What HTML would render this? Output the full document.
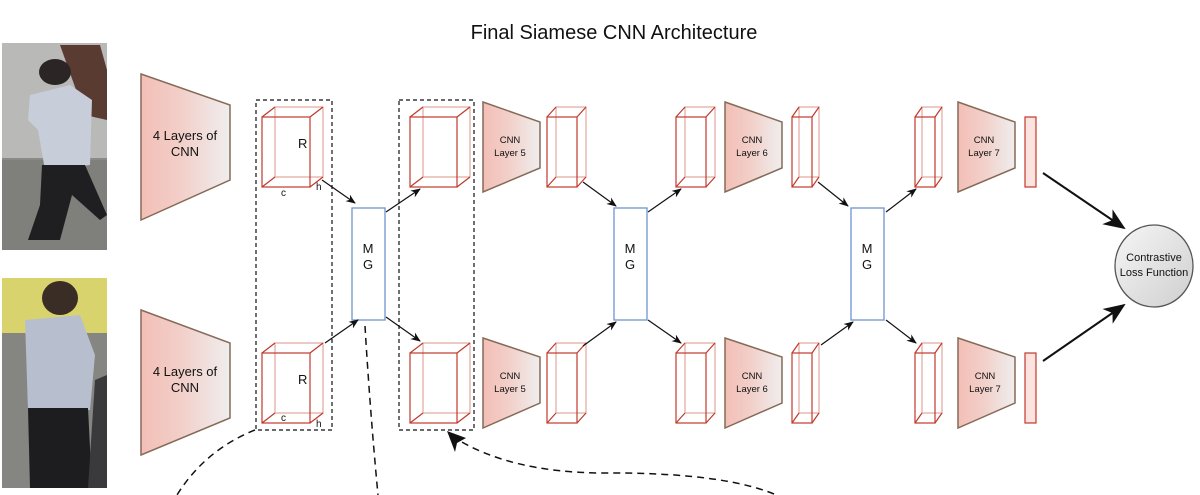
<!DOCTYPE html>
<html><head><meta charset="utf-8"><style>
html,body{margin:0;padding:0;background:#fff;}
svg{display:block;}
text{font-family:"Liberation Sans",sans-serif;fill:#111;}
</style></head><body>
<svg width="1200" height="495" viewBox="0 0 1200 495" xmlns="http://www.w3.org/2000/svg">
<defs>
<linearGradient id="tg" x1="0" x2="1" y1="0" y2="0">
<stop offset="0" stop-color="#f3bfb6"/><stop offset="0.45" stop-color="#f2cfc9"/><stop offset="1" stop-color="#efeeee"/></linearGradient>
<linearGradient id="cg" x1="0" x2="1" y1="0" y2="1">
<stop offset="0" stop-color="#f6f6f6"/><stop offset="1" stop-color="#cfcfcf"/></linearGradient>
<marker id="ar" markerWidth="10" markerHeight="8" refX="9" refY="4" orient="auto" markerUnits="userSpaceOnUse">
<path d="M0,0 L10,4 L0,8 L3,4 z" fill="#111"/></marker>
<marker id="ab" markerWidth="22" markerHeight="18" refX="20" refY="9" orient="auto" markerUnits="userSpaceOnUse">
<path d="M0,0 L22,9 L0,18 L6,9 z" fill="#111"/></marker>
</defs>

<text x="614" y="39" font-size="20" text-anchor="middle">Final Siamese CNN Architecture</text>

<!-- photos -->
<rect x="2" y="43" width="105" height="207" fill="#8a8a88"/>
<rect x="2" y="43" width="105" height="115" fill="#b9b9b7"/>
<rect x="2" y="160" width="105" height="90" fill="#7f7f7c"/>
<path d="M60 45 L100 45 L107 70 L107 120 L85 115 Z" fill="#5a3b32"/>
<ellipse cx="55" cy="72" rx="16" ry="13" fill="#2b2625"/>
<path d="M30 95 L70 85 L92 100 L90 165 L45 170 L38 130 L28 120 Z" fill="#c7cdd9"/>
<path d="M42 165 L85 165 L107 215 L100 220 L72 195 L60 240 L28 240 L40 205 Z" fill="#1f1e20"/>
<rect x="2" y="278" width="105" height="210" fill="#858582"/>
<rect x="2" y="278" width="105" height="55" fill="#d9d36e"/>
<ellipse cx="60" cy="298" rx="18" ry="17" fill="#3a2d25"/>
<path d="M25 320 L80 315 L95 355 L90 410 L28 410 Z" fill="#b7bfcf"/>
<path d="M28 408 L88 408 L92 488 L30 488 Z" fill="#1d1c1f"/>
<path d="M95 380 L107 375 L107 488 L88 488 Z" fill="#3a3a3c"/>

<!-- big trapezoids -->
<g stroke="#866a58" stroke-width="1.5" fill="url(#tg)">
<polygon points="141,74 230,105 230,180 141,220"/>
<polygon points="141,310 230,343 230,418 141,455"/>
<polygon points="483,102 540,122 540,168 483,192"/>
<polygon points="483,338 540,357 540,403 483,428"/>
<polygon points="725,102 782,122 782,168 725,192"/>
<polygon points="725,338 782,357 782,403 725,428"/>
<polygon points="958,102 1015,122 1015,168 958,192"/>
<polygon points="958,338 1015,357 1015,403 958,428"/>
</g>
<g font-size="13" text-anchor="middle">
<text x="185" y="140">4 Layers of</text><text x="185" y="156">CNN</text>
<text x="185" y="376">4 Layers of</text><text x="185" y="392">CNN</text>
</g>
<g font-size="9.5" text-anchor="middle">
<text x="510" y="143">CNN</text><text x="510" y="156">Layer 5</text>
<text x="510" y="379">CNN</text><text x="510" y="392">Layer 5</text>
<text x="752" y="143">CNN</text><text x="752" y="156">Layer 6</text>
<text x="752" y="379">CNN</text><text x="752" y="392">Layer 6</text>
<text x="984" y="143">CNN</text><text x="984" y="156">Layer 7</text>
<text x="985" y="379">CNN</text><text x="985" y="392">Layer 7</text>
</g>

<!-- dashed boxes -->
<g fill="none" stroke="#111" stroke-width="1.2" stroke-dasharray="4,3">
<rect x="256" y="100" width="76" height="330"/>
<rect x="399" y="100" width="75" height="330"/>
</g>

<!-- cubes -->
<g fill="none" stroke="#c0392b" stroke-width="1.2">
<g>
<rect x="262" y="117" width="48" height="70"/><rect x="275" y="107" width="48" height="70" stroke-opacity="0.45"/>
<path d="M262 117 L275 107 M310 117 L323 107 M310 187 L323 177 M262 187 L275 177"/>
</g>
<g transform="translate(0,236)">
<rect x="262" y="117" width="48" height="70"/><rect x="275" y="107" width="48" height="70" stroke-opacity="0.45"/>
<path d="M262 117 L275 107 M310 117 L323 107 M310 187 L323 177 M262 187 L275 177"/>
</g>
<g transform="translate(148,0)">
<rect x="262" y="117" width="47" height="70"/><rect x="275" y="107" width="47" height="70" stroke-opacity="0.45"/>
<path d="M262 117 L275 107 M309 117 L322 107 M309 187 L322 177 M262 187 L275 177"/>
</g>
<g transform="translate(148,236)">
<rect x="262" y="117" width="47" height="70"/><rect x="275" y="107" width="47" height="70" stroke-opacity="0.45"/>
<path d="M262 117 L275 107 M309 117 L322 107 M309 187 L322 177 M262 187 L275 177"/>
</g>
<g>
<rect x="547" y="117" width="30" height="70"/><rect x="556" y="107" width="30" height="70" stroke-opacity="0.45"/>
<path d="M547 117 L556 107 M577 117 L586 107 M577 187 L586 177 M547 187 L556 177"/>
</g>
<g transform="translate(0,236)">
<rect x="547" y="117" width="30" height="70"/><rect x="556" y="107" width="30" height="70" stroke-opacity="0.45"/>
<path d="M547 117 L556 107 M577 117 L586 107 M577 187 L586 177 M547 187 L556 177"/>
</g>
<g transform="translate(129,0)">
<rect x="547" y="117" width="30" height="70"/><rect x="556" y="107" width="30" height="70" stroke-opacity="0.45"/>
<path d="M547 117 L556 107 M577 117 L586 107 M577 187 L586 177 M547 187 L556 177"/>
</g>
<g transform="translate(129,236)">
<rect x="547" y="117" width="30" height="70"/><rect x="556" y="107" width="30" height="70" stroke-opacity="0.45"/>
<path d="M547 117 L556 107 M577 117 L586 107 M577 187 L586 177 M547 187 L556 177"/>
</g>
<g>
<rect x="792" y="117" width="20" height="70"/><rect x="799" y="107" width="20" height="70" stroke-opacity="0.45"/>
<path d="M792 117 L799 107 M812 117 L819 107 M812 187 L819 177 M792 187 L799 177"/>
</g>
<g transform="translate(0,236)">
<rect x="792" y="117" width="20" height="70"/><rect x="799" y="107" width="20" height="70" stroke-opacity="0.45"/>
<path d="M792 117 L799 107 M812 117 L819 107 M812 187 L819 177 M792 187 L799 177"/>
</g>
<g transform="translate(123,0)">
<rect x="792" y="117" width="20" height="70"/><rect x="799" y="107" width="20" height="70" stroke-opacity="0.45"/>
<path d="M792 117 L799 107 M812 117 L819 107 M812 187 L819 177 M792 187 L799 177"/>
</g>
<g transform="translate(123,236)">
<rect x="792" y="117" width="20" height="70"/><rect x="799" y="107" width="20" height="70" stroke-opacity="0.45"/>
<path d="M792 117 L799 107 M812 117 L819 107 M812 187 L819 177 M792 187 L799 177"/>
</g>
<rect x="1025" y="117" width="11" height="70" fill="#fbe3e0"/>
<rect x="1025" y="353" width="11" height="70" fill="#fbe3e0"/>
</g>
<g font-size="13"><text x="298" y="148">R</text><text x="298" y="384">R</text></g>
<g font-size="10"><text x="281" y="196">c</text><text x="316" y="190">h</text><text x="281" y="421">c</text><text x="316" y="427">h</text></g>

<!-- MG boxes -->
<g fill="#fff" stroke="#6f93cf" stroke-width="1.3">
<rect x="352" y="208" width="33" height="112"/>
<rect x="614" y="208" width="33" height="112"/>
<rect x="851" y="208" width="33" height="112"/>
</g>
<g font-size="13" text-anchor="middle">
<text x="368" y="253">M</text><text x="368" y="269">G</text>
<text x="630" y="253">M</text><text x="630" y="269">G</text>
<text x="867" y="253">M</text><text x="867" y="269">G</text>
</g>

<!-- small arrows -->
<g stroke="#111" stroke-width="1.2" marker-end="url(#ar)">
<line x1="322" y1="180" x2="355" y2="203"/>
<line x1="325" y1="343" x2="358" y2="320"/>
<line x1="386" y1="212" x2="420" y2="189"/>
<line x1="386" y1="317" x2="420" y2="341"/>
<line x1="583" y1="182" x2="616" y2="206"/>
<line x1="583" y1="346" x2="616" y2="322"/>
<line x1="648" y1="212" x2="681" y2="189"/>
<line x1="648" y1="320" x2="681" y2="343"/>
<line x1="818" y1="182" x2="848" y2="206"/>
<line x1="821" y1="345" x2="853" y2="322"/>
<line x1="886" y1="212" x2="916" y2="189"/>
<line x1="886" y1="320" x2="916" y2="343"/>
</g>
<g stroke="#111" stroke-width="2" marker-end="url(#ab)">
<line x1="1043" y1="173" x2="1124" y2="228"/>
<line x1="1043" y1="361" x2="1124" y2="305"/>
</g>

<!-- circle -->
<ellipse cx="1154" cy="266" rx="39" ry="41" fill="url(#cg)" stroke="#555" stroke-width="1.3"/>
<g font-size="11" text-anchor="middle"><text x="1154" y="261">Contrastive</text><text x="1154" y="276">Loss Function</text></g>

<!-- dashed curves -->
<g fill="none" stroke="#111" stroke-width="1.5" stroke-dasharray="7,5">
<path d="M255 430 Q205 450 177 495"/>
<path d="M365 326 Q370 410 378 495"/>
<path d="M774 494 Q720 472 600 473 Q510 472 455 438" />
</g>
<path d="M447 431 L466 438 L457 443 L455 452 Z" fill="#111"/>
</svg>
</body></html>
